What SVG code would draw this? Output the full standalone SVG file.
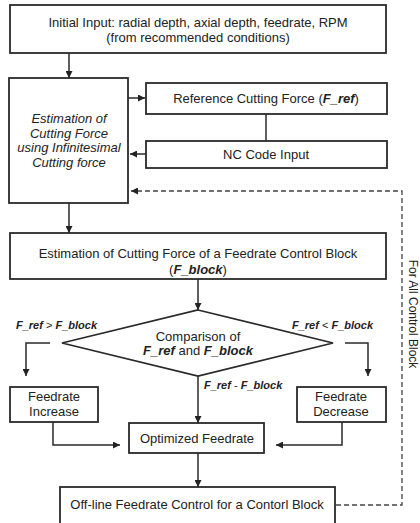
<svg xmlns="http://www.w3.org/2000/svg" width="420" height="523" viewBox="0 0 420 523">
<defs>
<style>
.box{fill:#fff;stroke:#2a2a2a;stroke-width:1.8}
.ln{fill:none;stroke:#2a2a2a;stroke-width:1.5}
.dash{fill:none;stroke:#444;stroke-width:1.3;stroke-dasharray:5,3}
text{font-family:"Liberation Sans",Arial,sans-serif;font-size:13px;fill:#222}
.c{text-anchor:middle}
.it{font-style:italic}
.b{font-weight:bold;font-style:italic}
.lab{font-size:11px}
.rot{font-size:12px}
</style>
<marker id="ah" viewBox="0 0 10 10" refX="10" refY="5" markerWidth="7" markerHeight="7" markerUnits="userSpaceOnUse" orient="auto">
<path d="M0,0 L10,5 L0,10 z" fill="#222"/>
</marker>
</defs>
<rect width="420" height="523" fill="#fff"/>

<g id="connectors">
<line class="ln" x1="69" y1="53" x2="69" y2="78" marker-end="url(#ah)"/>
<line class="ln" x1="128" y1="98" x2="145" y2="98" marker-end="url(#ah)"/>
<line class="ln" x1="266" y1="114" x2="266" y2="141"/>
<line class="ln" x1="146" y1="154" x2="130" y2="154" marker-end="url(#ah)"/>
<line class="ln" x1="69" y1="203" x2="69" y2="233" marker-end="url(#ah)"/>
<line class="ln" x1="198" y1="279" x2="198" y2="310" marker-end="url(#ah)"/>
<polyline class="ln" points="50,343 26,343 26,376" marker-end="url(#ah)"/>
<polyline class="ln" points="345,343 368,343 368,376" marker-end="url(#ah)"/>
<line class="ln" x1="198" y1="376" x2="198" y2="423" marker-end="url(#ah)"/>
<polyline class="ln" points="53,422 53,445 120,445" marker-end="url(#ah)"/>
<polyline class="ln" points="342,422 342,445 276,445" marker-end="url(#ah)"/>
<line class="ln" x1="198" y1="453" x2="198" y2="487" marker-end="url(#ah)"/>
<polyline class="dash" points="336,505 402,505 402,191 131,191" marker-end="url(#ah)"/>
</g>

<g id="n-initial">
<rect class="box" x="10" y="5" width="376" height="48"/>
<text class="c" x="198" y="27">Initial Input: radial depth, axial depth, feedrate, RPM</text>
<text class="c" x="198" y="42">(from recommended conditions)</text>
</g>

<g id="n-estimation">
<rect class="box" x="9" y="78" width="119" height="125"/>
<text class="c it" x="69" y="123">Estimation of</text>
<text class="c it" x="69" y="137.5">Cutting Force</text>
<text class="c it" x="69" y="152">using Infinitesimal</text>
<text class="c it" x="69" y="166.5">Cutting force</text>
</g>

<g id="n-ref">
<rect class="box" x="146" y="83" width="241" height="31"/>
<text class="c" x="266" y="103">Reference Cutting Force (<tspan class="b">F_ref</tspan>)</text>
</g>

<g id="n-nc">
<rect class="box" x="146" y="141" width="241" height="27"/>
<text class="c" x="266" y="159">NC Code Input</text>
</g>

<g id="n-fblock">
<rect class="box" x="10" y="233" width="376" height="46"/>
<text class="c" x="198" y="258">Estimation of Cutting Force of a Feedrate Control Block</text>
<text class="c" x="198" y="274">(<tspan class="b">F_block</tspan>)</text>
</g>

<g id="n-compare">
<polygon class="box" points="198,310 333,343 198,376 62,343"/>
<text class="c" x="198" y="341">Comparison of</text>
<text class="c" x="198" y="355"><tspan class="b">F_ref</tspan> and <tspan class="b">F_block</tspan></text>
</g>

<g id="labels">
<text class="lab" x="16" y="329"><tspan class="b">F_ref</tspan> &gt; <tspan class="b">F_block</tspan></text>
<text class="lab" x="292" y="329"><tspan class="b">F_ref</tspan> &lt; <tspan class="b">F_block</tspan></text>
<text class="lab" x="204" y="389"><tspan class="b">F_ref</tspan> - <tspan class="b">F_block</tspan></text>
<text class="rot" transform="rotate(90 409 314)" x="409" y="314" text-anchor="middle">For All Control Block</text>
</g>

<g id="n-increase">
<rect class="box" x="10" y="387" width="88" height="35"/>
<text class="c" x="54" y="401">Feedrate</text>
<text class="c" x="54" y="416">Increase</text>
</g>

<g id="n-decrease">
<rect class="box" x="297" y="387" width="89" height="35"/>
<text class="c" x="341" y="401">Feedrate</text>
<text class="c" x="341" y="416">Decrease</text>
</g>

<g id="n-optimized">
<rect class="box" x="129" y="423" width="135" height="30"/>
<text class="c" x="197" y="443">Optimized Feedrate</text>
</g>

<g id="n-offline">
<rect class="box" x="60" y="487" width="275" height="40"/>
<text class="c" x="197" y="509">Off-line Feedrate Control for a Contorl Block</text>
</g>
</svg>
